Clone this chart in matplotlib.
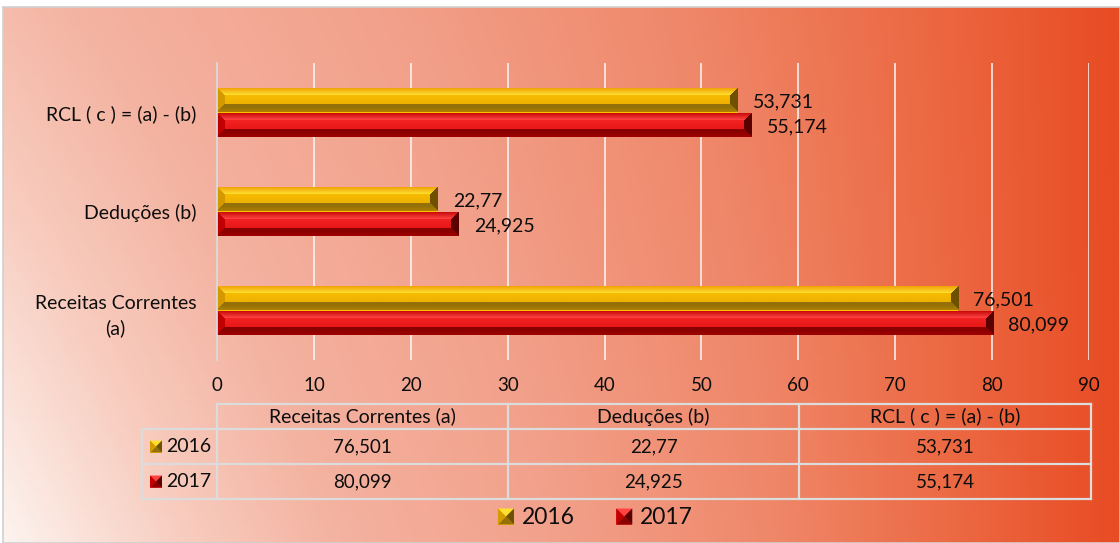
import numpy as np
import matplotlib
matplotlib.use("Agg")
import matplotlib.pyplot as plt
from matplotlib.colors import LinearSegmentedColormap, to_rgb
from matplotlib.patches import Rectangle, Polygon
from matplotlib.lines import Line2D

# ---------------- data ----------------
categories = ["Receitas Correntes (a)", "Deduções (b)", "RCL ( c ) = (a) - (b)"]
axis_labels = ["Receitas Correntes\n(a)", "Deduções (b)", "RCL ( c ) = (a) - (b)"]
series_names = ["2016", "2017"]
values_2016 = [76.501, 22.77, 53.731]
values_2017 = [80.099, 24.925, 55.174]
x_ticks = [0, 10, 20, 30, 40, 50, 60, 70, 80, 90]

plt.rcParams['font.family'] = ['Lato', 'DejaVu Sans']
TXT = '#0d0d0d'
FS = 14

W, H = 1120, 543
fig = plt.figure(figsize=(W / 100, H / 100), dpi=100)
fig.patch.set_facecolor('white')


def fx(px):
    return px / W


def fy(py):
    return 1 - py / H


# ---------------- background gradient ----------------
bg = fig.add_axes([fx(3), 0, fx(W) - fx(3), fy(7)], zorder=-5)
gh, gw = 120, 240
xn = np.linspace(0, 1, gw)[None, :]
yn = np.linspace(0, 1, gh)[:, None]
u = np.clip(xn + 0.25 * (1 - yn) * (1 - xn) ** 1.2, 0, 1)
bg_cmap = LinearSegmentedColormap.from_list('bg', [
    (0.0, '#fdf3ef'), (0.15, '#f8cfc2'), (0.3, '#f4b2a0'), (0.5, '#f2a08a'),
    (0.7, '#ef8668'), (0.85, '#ec6a44'), (1.0, '#e84c24')])
bg.imshow(bg_cmap(u), aspect='auto', extent=(0, 1, 0, 1), interpolation='bilinear')
bg.set_xticks([]); bg.set_yticks([])
for s in bg.spines.values():
    s.set_color('#d0d0d0'); s.set_linewidth(1.2)

# ---------------- main axes ----------------
ax_l, ax_r, ax_t, ax_b = 217, 1089, 63, 360
ax = fig.add_axes([fx(ax_l), fy(ax_b), fx(ax_r) - fx(ax_l), fy(ax_t) - fy(ax_b)])
ax.patch.set_alpha(0)
ypos = np.arange(len(categories))
bh = 0.25
bars16 = ax.barh(ypos + bh / 2, values_2016, height=bh, color='#ffc000', zorder=3)
bars17 = ax.barh(ypos - bh / 2, values_2017, height=bh, color='#e01010', zorder=3)
ax.set_xlim(0, 90)
ax.set_ylim(-0.5, 2.5)
ax.set_xticks(x_ticks)
ax.set_xticklabels([str(t) for t in x_ticks], fontsize=13.5, color=TXT)
ax.set_yticks(ypos)
ax.set_yticklabels(axis_labels, fontsize=FS, color=TXT, multialignment='center',
                   linespacing=1.5)
ax.tick_params(axis='x', length=0, pad=12)
ax.tick_params(axis='y', length=0, pad=15)
ax.grid(axis='x', color='#f7f7f7', linewidth=1.3, alpha=0.85, zorder=0)
ax.set_axisbelow(True)
for k in ['top', 'right', 'bottom']:
    ax.spines[k].set_visible(False)
ax.spines['left'].set_color('#d9d9d9')
ax.spines['left'].set_linewidth(1.3)
ax.spines['left'].set_zorder(5)

# bevel shading for bars
gold = dict(top_edge='#ee9800', top_in='#ffe030', face_t='#ffc400', face_b='#e6a800',
            bot_in='#94700a', bot_edge='#b08000', left='#d49a00', right='#6e5000')
red = dict(top_edge='#c00000', top_in='#ff4444', face_t='#ff2a2a', face_b='#dc1010',
           bot_in='#8a0000', bot_edge='#a00000', left='#c00000', right='#5a0000')


def bevel_image(wpx, hpx, c, b=8):
    wpx = max(int(round(wpx)), 2)
    hpx = max(int(round(hpx)), 2)
    xs = np.arange(wpx)[None, :] + 0.5
    ys = np.arange(hpx)[:, None] + 0.5
    dl = np.broadcast_to(xs, (hpx, wpx))
    dr = np.broadcast_to(wpx - xs, (hpx, wpx))
    dt = np.broadcast_to(ys, (hpx, wpx))
    db = np.broadcast_to(hpx - ys, (hpx, wpx))
    img = np.zeros((hpx, wpx, 3))
    yy = np.broadcast_to(ys / hpx, (hpx, wpx))

    def lerp(a, bcol, t):
        a = np.array(to_rgb(a)); bcol = np.array(to_rgb(bcol))
        return a + (bcol - a) * t[..., None]
    img[:] = lerp(c['face_t'], c['face_b'], yy)
    dmin = np.minimum.reduce([dl, dr, dt, db])
    top = (dt == dmin) & (dt < b)
    bot = (db == dmin) & (db < b) & ~top
    lef = (dl == dmin) & (dl < b) & ~top & ~bot
    rig = (dr == dmin) & (dr < b) & ~top & ~bot & ~lef
    img[top] = lerp(c['top_edge'], c['top_in'], np.clip(dt / b, 0, 1))[top]
    img[bot] = lerp(c['bot_edge'], c['bot_in'], np.clip(db / b * 1.6, 0, 1))[bot]
    img[lef] = np.array(to_rgb(c['left']))
    img[rig] = np.array(to_rgb(c['right']))
    return img


for bars, cols in [(bars16, gold), (bars17, red)]:
    for p in bars:
        x0, y0 = p.get_x(), p.get_y()
        x1, y1 = x0 + p.get_width(), y0 + p.get_height()
        (X0, Y0), (X1, Y1) = ax.transData.transform([(x0, y0), (x1, y1)])
        img = bevel_image(abs(X1 - X0), abs(Y1 - Y0), cols)
        im = ax.imshow(img, extent=(x0, x1, y0, y1), aspect='auto', zorder=4,
                       interpolation='bilinear', origin='upper')
        im.set_clip_path(p)
ax.set_xlim(0, 90)
ax.set_ylim(-0.5, 2.5)


def fmt(v):
    return f"{v:g}".replace('.', ',')


for bars, vals in [(bars16, values_2016), (bars17, values_2017)]:
    for p, v in zip(bars, vals):
        ax.annotate(fmt(v), (p.get_x() + p.get_width(), p.get_y() + p.get_height() / 2),
                    xytext=(11, -1.5), textcoords='offset points', va='center', ha='left',
                    fontsize=FS, color=TXT, zorder=6)

# ---------------- data table ----------------
tcol = '#dcdcdc'
tlw = 1.6
t_top, t_h, t_r1, t_bot = 404, 429, 464, 499
t_left = 142
col_edges = [ax_l, 508, 799, 1091]


def hline(y, x0, x1):
    fig.add_artist(Line2D([fx(x0), fx(x1)], [fy(y), fy(y)], color=tcol, lw=tlw))


def vline(x, y0, y1):
    fig.add_artist(Line2D([fx(x), fx(x)], [fy(y0), fy(y1)], color=tcol, lw=tlw))


hline(t_top, ax_l, col_edges[-1])
for y in [t_h, t_r1, t_bot]:
    hline(y, t_left, col_edges[-1])
for x in col_edges:
    vline(x, t_top, t_bot)
vline(t_left, t_h, t_bot)

for i, cat in enumerate(categories):
    cx = (col_edges[i] + col_edges[i + 1]) / 2
    fig.text(fx(cx), fy((t_top + t_h) / 2), cat, ha='center', va='center', fontsize=FS, color=TXT)
    fig.text(fx(cx), fy((t_h + t_r1) / 2), fmt(values_2016[i]), ha='center', va='center',
             fontsize=13.5, color=TXT)
    fig.text(fx(cx), fy((t_r1 + t_bot) / 2), fmt(values_2017[i]), ha='center', va='center',
             fontsize=13.5, color=TXT)


def pyramid_marker(cx, cy, size, c):
    """small bevelled square (legend key look)"""
    h = size / 2
    pts = lambda L: [(fx(a), fy(b)) for a, b in L]
    inner = size * 0.18
    fig.add_artist(Rectangle((fx(cx - h), fy(cy + h)), fx(size), fy(0) - fy(size),
                             facecolor=c['face_t'], edgecolor='none'))
    fig.add_artist(Polygon(pts([(cx - h, cy - h), (cx + h, cy - h), (cx, cy)]),
                           facecolor=c['top_in'], edgecolor='none'))
    fig.add_artist(Polygon(pts([(cx - h, cy + h), (cx + h, cy + h), (cx, cy)]),
                           facecolor=c['bot_in'], edgecolor='none'))
    fig.add_artist(Polygon(pts([(cx + h, cy - h), (cx + h, cy + h), (cx, cy)]),
                           facecolor=c['right'], edgecolor='none'))
    fig.add_artist(Polygon(pts([(cx - h, cy - h), (cx - h, cy + h), (cx, cy)]),
                           facecolor=c['left'], edgecolor='none'))


for (ya, yb), name, c in zip([(t_h, t_r1), (t_r1, t_bot)], series_names, [gold, red]):
    cy = (ya + yb) / 2
    pyramid_marker(156, cy, 12, c)
    fig.text(fx(166), fy(cy), name, ha='left', va='center', fontsize=FS, color=TXT)

# ---------------- legend ----------------
handles = [Rectangle((0, 0), 1, 1, facecolor='#ffc000', edgecolor='none'),
           Rectangle((0, 0), 1, 1, facecolor='#e01010', edgecolor='none')]
leg = fig.legend(handles, series_names, loc='center', bbox_to_anchor=(fx(595), fy(518)),
                 ncol=2, frameon=False, fontsize=16.5, handlelength=0.75, handleheight=0.75,
                 handletextpad=0.3, columnspacing=1.8, labelcolor=TXT)
for hp in leg.get_patches():
    hp.set_alpha(0)
fig.canvas.draw()
rend = fig.canvas.get_renderer()
for hp, c in zip(leg.get_patches(), [gold, red]):
    bb = hp.get_window_extent(rend)
    cx = (bb.x0 + bb.x1) / 2
    cy = H - (bb.y0 + bb.y1) / 2
    pyramid_marker(cx, cy, 16, c)

fig.savefig('out.png', dpi=100, facecolor=fig.get_facecolor())
